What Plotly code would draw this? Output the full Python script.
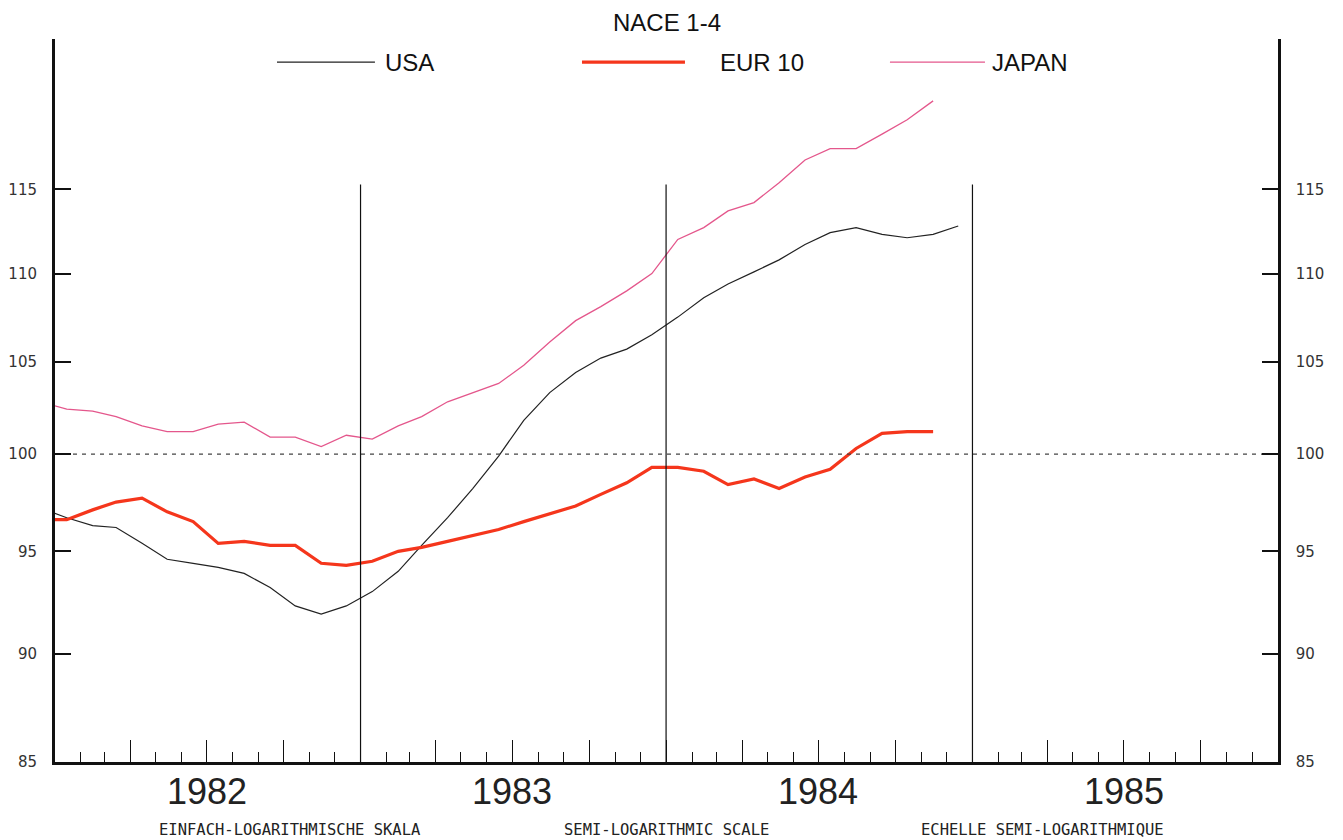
import math
import pandas as pd
import plotly.graph_objects as go

# monthly values, mid-month, Dec 1981 .. Dec 1984
months = pd.date_range("1981-12-01", periods=37, freq="MS") + pd.Timedelta(days=14)

usa = [97.2,
       96.7, 96.3, 96.2, 95.4, 94.6, 94.4, 94.2, 93.9, 93.2, 92.3, 91.9, 92.3,
       93.0, 94.0, 95.3, 96.7, 98.2, 99.9, 101.8, 103.3, 104.4, 105.2, 105.7, 106.5,
       107.5, 108.6, 109.4, 110.1, 110.8, 111.7, 112.4, 112.7, 112.3, 112.1, 112.3, 112.8]
eur10 = [96.6,
         96.6, 97.1, 97.5, 97.7, 97.0, 96.5, 95.4, 95.5, 95.3, 95.3, 94.4, 94.3,
         94.5, 95.0, 95.2, 95.5, 95.8, 96.1, 96.5, 96.9, 97.3, 97.9, 98.5, 99.3,
         99.3, 99.1, 98.4, 98.7, 98.2, 98.8, 99.2, 100.3, 101.1, 101.2, 101.2]
japan = [102.8,
         102.4, 102.3, 102.0, 101.5, 101.2, 101.2, 101.6, 101.7, 100.9, 100.9, 100.4, 101.0,
         100.8, 101.5, 102.0, 102.8, 103.3, 103.8, 104.8, 106.1, 107.3, 108.1, 109.0, 110.0,
         112.0, 112.7, 113.7, 114.2, 115.4, 116.8, 117.5, 117.5, 118.4, 119.3, 120.5]

years = ["1982", "1983", "1984", "1985"]
year_mid = ["1982-07-01", "1983-07-01", "1984-07-01", "1985-07-01"]
year_breaks = ["1983-01-01", "1984-01-01", "1985-01-01"]
y_ticks = [85, 90, 95, 100, 105, 110, 115]
x_start, x_end = "1982-01-01", "1986-01-01"
y_min, y_max = 85, 124.5
base_level = 100
break_top = 115.3

captions = ["EINFACH-LOGARITHMISCHE SKALA", "SEMI-LOGARITHMIC SCALE",
            "ECHELLE SEMI-LOGARITHMIQUE"]

USA_C = "#222222"
EUR_C = "#f5361c"
JAP_C = "#e4578c"
NARROW = "Liberation Sans Narrow, Liberation Sans, Arial, sans-serif"

fig = go.Figure()
fig.add_trace(go.Scatter(x=months[:len(usa)], y=usa, mode="lines", name="USA",
                         line=dict(color=USA_C, width=1.2)))
fig.add_trace(go.Scatter(x=months[:len(japan)], y=japan, mode="lines", name="JAPAN",
                         line=dict(color=JAP_C, width=1.3)))
fig.add_trace(go.Scatter(x=months[:len(eur10)], y=eur10, mode="lines", name="EUR 10",
                         line=dict(color=EUR_C, width=3.2)))
# dotted base line, also keeps the right-hand axis alive
fig.add_trace(go.Scatter(x=[x_start, x_end], y=[base_level, base_level], mode="lines",
                         yaxis="y2", hoverinfo="skip", showlegend=False,
                         line=dict(color="#444444", width=1.4, dash="4px,5px")))

# year separators
for d in year_breaks:
    fig.add_shape(type="line", xref="x", yref="y", x0=d, x1=d, y0=y_min, y1=break_top,
                  line=dict(color="#111111", width=1.2))

# hand-drawn legend in the header
legend = [("USA", USA_C, 1.2, 0.1815, 0.2616, 0.268),
          ("EUR 10", EUR_C, 3.2, 0.4309, 0.5151, 0.542),
          ("JAPAN", JAP_C, 1.3, 0.6827, 0.7604, 0.7645)]
for name, col, w, x0, x1, xt in legend:
    fig.add_shape(type="line", xref="paper", yref="paper", x0=x0, x1=x1, y0=0.968, y1=0.968,
                  line=dict(color=col, width=w))
    fig.add_annotation(text=name, xref="paper", yref="paper", x=xt, y=0.968,
                       xanchor="left", yanchor="middle", showarrow=False,
                       font=dict(family=NARROW, size=24, color="#111111"))

fig.add_annotation(text="NACE 1-4", xref="paper", yref="paper", x=0.5, y=1.0235,
                   xanchor="center", yanchor="middle", showarrow=False,
                   font=dict(family=NARROW, size=24, color="#111111"))

for lbl, d in zip(years, year_mid):
    fig.add_annotation(text=lbl, xref="x", yref="paper", x=d, y=-0.041,
                       xanchor="center", yanchor="middle", showarrow=False,
                       font=dict(family="Liberation Sans, Arial, sans-serif", size=36,
                                 color="#222222"))

for txt, xc in zip(captions, [0.192, 0.4996, 0.8078]):
    fig.add_annotation(text=txt, xref="paper", yref="paper", x=xc, y=-0.094,
                       xanchor="center", yanchor="middle", showarrow=False,
                       font=dict(family="DejaVu Sans Mono, monospace", size=15.5,
                                 color="#222222"))

y_range = [math.log10(y_min), math.log10(y_max)]
y_common = dict(type="log", range=y_range, tickvals=y_ticks, ticktext=[str(v) for v in y_ticks],
                ticks="inside", ticklen=16, tickwidth=2, tickcolor="#111111",
                showline=True, linecolor="#111111", showgrid=False, zeroline=False,
                ticklabelstandoff=12, automargin=False,
                tickfont=dict(family="DejaVu Sans, sans-serif", size=15, color="#333333"))

# page body adds an 8px offset, so the figure is 8px smaller than the window
fig.update_layout(
    width=1335, height=832,
    paper_bgcolor="white", plot_bgcolor="white",
    margin=dict(l=47, r=65, t=31, b=78, autoexpand=False),
    showlegend=False,
    xaxis=dict(type="date", range=[x_start, x_end], showgrid=False, zeroline=False,
               showline=True, linecolor="#111111", linewidth=2.5, automargin=False,
               tick0=x_start, dtick="M3", ticks="inside", ticklen=22, tickwidth=1.2,
               tickcolor="#111111", showticklabels=False,
               minor=dict(dtick="M1", tick0=x_start, ticks="inside", ticklen=10,
                          tickwidth=1.2, tickcolor="#111111", showgrid=False)),
    yaxis=dict(**y_common, side="left", linewidth=3),
    yaxis2=dict(**y_common, side="right", overlaying="y", anchor="x", linewidth=2.5),
)

fig.write_html("out.html")
